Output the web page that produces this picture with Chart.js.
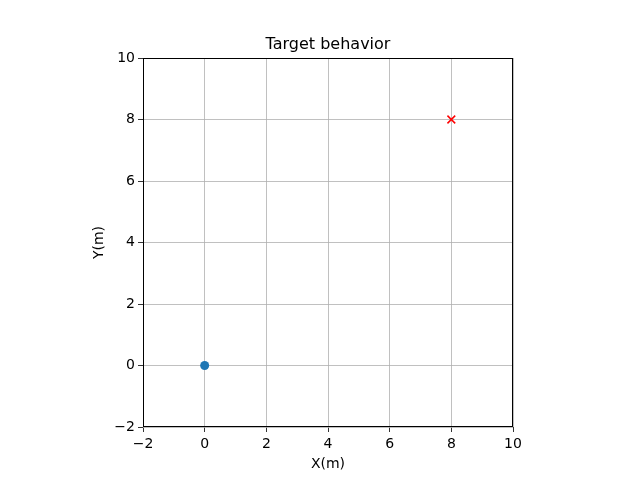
<!DOCTYPE html>
<html>
<head>
<meta charset="utf-8">
<script src="https://cdn.jsdelivr.net/npm/chart.js@4"></script>
<style>
  body { margin: 0; background: #fff; }
  canvas { display: block; }
</style>
</head>
<body>
<canvas id="chart" width="640" height="480"></canvas>
<script>
// values
const startX = [0];
const startY = [0];
const targetX = [8];
const targetY = [8];
const axisMin = -2;
const axisMax = 10;
const tickStep = 2;

const toPoints = (xs, ys) => xs.map((x, i) => ({ x: x, y: ys[i] }));
const minusSign = (v) => String(v).replace('-', '\u2212');

// matplotlib draws a full box round the axes
const frame = {
    id: 'frame',
    afterDraw(chart) {
        const a = chart.chartArea;
        const c = chart.ctx;
        c.save();
        c.strokeStyle = '#000';
        c.lineWidth = 1;
        c.strokeRect(a.left + 0.5, a.top + 0.5, a.right - a.left - 1, a.bottom - a.top - 1);
        c.restore();
    }
};

const font = { family: 'DejaVu Sans', size: 14 };

new Chart(document.getElementById('chart').getContext('2d'), {
    type: 'scatter',
    data: {
        datasets: [
            {
                label: 'start',
                data: toPoints(startX, startY),
                pointStyle: 'circle',
                pointRadius: 4.5,
                backgroundColor: '#1f77b4',
                borderColor: '#1f77b4',
                borderWidth: 0,
            },
            {
                label: 'target',
                data: toPoints(targetX, targetY),
                pointStyle: 'crossRot',
                pointRadius: 5.5,
                borderColor: '#ff0000',
                borderWidth: 1.5,
            },
        ],
    },
    options: {
        responsive: false,
        animation: false,
        layout: { padding: { left: 87, right: 127, top: 31, bottom: 3 } },
        plugins: {
            legend: { display: false },
            tooltip: { enabled: false },
        },
        scales: {
            x: {
                type: 'linear',
                min: axisMin,
                max: axisMax,
                afterFit(scale) { scale.height = 50; },
                ticks: { stepSize: tickStep, color: '#000', font: font, padding: 4, maxRotation: 0, callback: minusSign },
                grid: { color: '#b0b0b0', lineWidth: 0.8, tickColor: '#000', tickLength: 5 },
                border: { display: false },
                title: { display: true, text: 'X(m)', color: '#000', font: font },
            },
            // top axis only carries the title, so it centres over the plot like matplotlib
            top: {
                type: 'linear',
                position: 'top',
                min: axisMin,
                max: axisMax,
                afterFit(scale) { scale.height = 27; },
                ticks: { display: false },
                grid: { display: false },
                border: { display: false },
                title: {
                    display: true,
                    text: 'Target behavior',
                    color: '#000',
                    font: { family: 'DejaVu Sans', size: 16 },
                },
            },
            y: {
                type: 'linear',
                min: axisMin,
                max: axisMax,
                afterFit(scale) { scale.width = 56; },
                ticks: { stepSize: tickStep, color: '#000', font: font, padding: 3, callback: minusSign },
                grid: { color: '#b0b0b0', lineWidth: 0.8, tickColor: '#000', tickLength: 5 },
                border: { display: false },
                title: { display: true, text: 'Y(m)', color: '#000', font: font },
            },
        },
    },
    plugins: [frame],
});
</script>
</body>
</html>
